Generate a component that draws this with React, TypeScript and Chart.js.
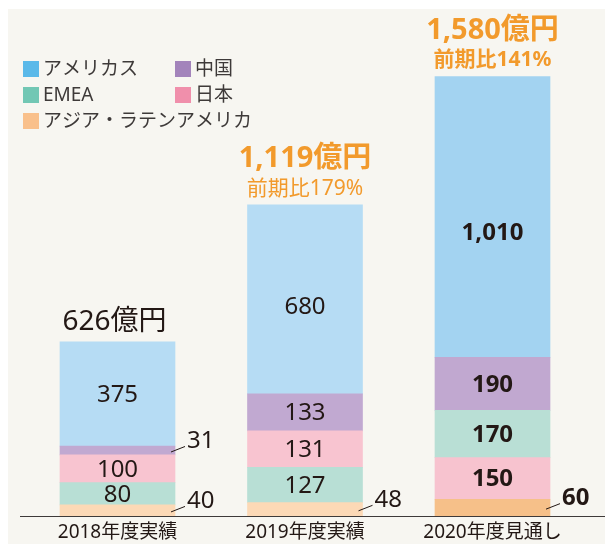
import React, { useEffect, useRef } from "react";
import { Chart, registerables } from "chart.js";

Chart.register(...registerables);

// ---- data ----
const categories = ["2018年度実績", "2019年度実績", "2020年度見通し"];
const americas = [375, 680, 1010];
const china = [31, 133, 190];
const emea = [80, 127, 170];
const japan = [100, 131, 150];
const asiaLatam = [40, 48, 60];
const totalLabels = ["626億円", "1,119億円", "1,580億円"];
const growthLabels = ["", "前期比179%", "前期比141%"];
// stacking order, bottom → top, for each category
const stackOrder = [
  ["asia", "emea", "japan", "china", "americas"],
  ["asia", "emea", "japan", "china", "americas"],
  ["asia", "japan", "emea", "china", "americas"],
];
const legendOrder = ["americas", "china", "emea", "japan", "asia"];

type Region = { label: string; values: number[]; legend: string; bars: string[] };
const regions: Record<string, Region> = {
  americas: { label: "アメリカス", values: americas, legend: "#5bb9e9", bars: ["#b6dcf4", "#b6dcf4", "#a3d3f1"] },
  china: { label: "中国", values: china, legend: "#a384bb", bars: ["#c1a9d1", "#c1a9d1", "#c1a8d0"] },
  emea: { label: "EMEA", values: emea, legend: "#72c7b4", bars: ["#b8dfd5", "#b8dfd5", "#b9dfd5"] },
  japan: { label: "日本", values: japan, legend: "#f08fab", bars: ["#f8c4d0", "#f8c4d0", "#f7c3cf"] },
  asia: { label: "アジア・ラテンアメリカ", values: asiaLatam, legend: "#f9c08b", bars: ["#fcd9b6", "#fcd9b6", "#f6c089"] },
};

const INK = "#231815";
const ORANGE = "#f29a2c";
const FONT = '"Noto Sans", "Noto Sans CJK JP", sans-serif';
const font = (w: string, s: number) => `${w} ${s}px ${FONT}`;

const fmt = (v: number) => v.toLocaleString("en-US");

export default function App() {
  const ref = useRef<HTMLCanvasElement | null>(null);

  useEffect(() => {
    if (!ref.current) return;
    const layers = [0, 1, 2, 3, 4].map((i) => ({
      label: "layer" + i,
      keys: categories.map((_, c) => stackOrder[c][i]),
      data: categories.map((_, c) => regions[stackOrder[c][i]].values[c]),
      backgroundColor: categories.map((_, c) => regions[stackOrder[c][i]].bars[c]),
      borderWidth: 0,
      barThickness: 115,
    }));

    const decor = {
      id: "decor",
      beforeDraw(chart: any) {
        const ctx = chart.ctx;
        ctx.save();
        ctx.fillStyle = "#ffffff";
        ctx.fillRect(0, 0, chart.width, chart.height);
        ctx.fillStyle = "#f7f6f1";
        ctx.fillRect(8, 9, chart.width - 8, chart.height - 9);
        ctx.restore();
      },
      afterDatasetsDraw(chart: any) {
        const ctx = chart.ctx;
        const area = chart.chartArea;
        ctx.save();
        // baseline
        ctx.strokeStyle = "#3e3a39";
        ctx.lineWidth = 1.2;
        ctx.beginPath();
        ctx.moveTo(20, area.bottom + 0.5);
        ctx.lineTo(chart.width, area.bottom + 0.5);
        ctx.stroke();

        // segment labels
        chart.data.datasets.forEach((ds: any, di: number) => {
          const meta = chart.getDatasetMeta(di);
          meta.data.forEach((bar: any, c: number) => {
            const v = ds.data[c];
            const bold = c === 2 ? "bold" : "normal";
            const h = bar.base - bar.y;
            const cy = (bar.y + bar.base) / 2;
            const right = bar.x + bar.width / 2;
            ctx.fillStyle = INK;
            if (h >= 20) {
              ctx.font = font(bold, 24);
              ctx.textAlign = "center";
              ctx.textBaseline = "middle";
              // tall segments carry their label a little below the middle
              const ly = h > 150 ? cy + (h - 100) * 0.09 : cy + 1;
              ctx.fillText(fmt(v), bar.x, ly);
            } else {
              ctx.strokeStyle = INK;
              ctx.lineWidth = 1;
              ctx.beginPath();
              ctx.moveTo(right - 4, cy + 1.5);
              ctx.lineTo(right + 10, cy - 4);
              ctx.stroke();
              ctx.font = font(bold, 24);
              ctx.textAlign = "left";
              ctx.textBaseline = "middle";
              ctx.fillText(fmt(v), right + 12, cy - 9);
            }
          });
        });

        // totals above bars
        const topMeta = chart.getDatasetMeta(chart.data.datasets.length - 1);
        topMeta.data.forEach((bar: any, c: number) => {
          ctx.textAlign = "center";
          ctx.textBaseline = "middle";
          if (c === 0) {
            ctx.fillStyle = INK;
            ctx.font = font("normal", 28);
            ctx.fillText(totalLabels[c], bar.x - 3, bar.y - 20);
          } else {
            ctx.fillStyle = ORANGE;
            ctx.font = font("bold", 29);
            ctx.fillText(totalLabels[c], bar.x, bar.y - 46);
            ctx.font = font(c === 2 ? "bold" : "normal", 21);
            ctx.fillText(growthLabels[c], bar.x, bar.y - 16);
          }
          // category label
          ctx.fillStyle = INK;
          ctx.font = font("normal", 19);
          ctx.textBaseline = "middle";
          ctx.fillText(categories[c], bar.x, area.bottom + 17);
        });

        // legend
        const pos = [
          [23, 69],
          [175, 69],
          [23, 95],
          [175, 95],
          [23, 121],
        ];
        legendOrder.forEach((k, i) => {
          const [x, y] = pos[i];
          ctx.fillStyle = regions[k].legend;
          ctx.fillRect(x, y - 8, 16, 16);
          ctx.fillStyle = "#3e3a39";
          ctx.font = font("normal", 19);
          ctx.textAlign = "left";
          ctx.textBaseline = "middle";
          ctx.fillText(regions[k].label, x + 20, y + 1);
        });
        ctx.restore();
      },
    };

    const chart = new Chart(ref.current, {
      type: "bar",
      data: { labels: categories, datasets: layers as any },
      options: {
        animation: false,
        responsive: false,
        events: [],
        layout: { padding: { left: 23.75, right: 18.75, top: 0, bottom: 28 } },
        plugins: { legend: { display: false }, tooltip: { enabled: false } },
        scales: {
          x: { display: false, stacked: true, offset: true },
          y: { display: false, stacked: true, min: 0, max: 1855 },
        },
      },
      plugins: [decor],
    });
    return () => chart.destroy();
  }, []);

  return (
    <div style={{ position: "fixed", left: 0, top: 0, width: 605, height: 544 }}>
      <canvas ref={ref} width={605} height={544} style={{ display: "block" }} />
    </div>
  );
}
